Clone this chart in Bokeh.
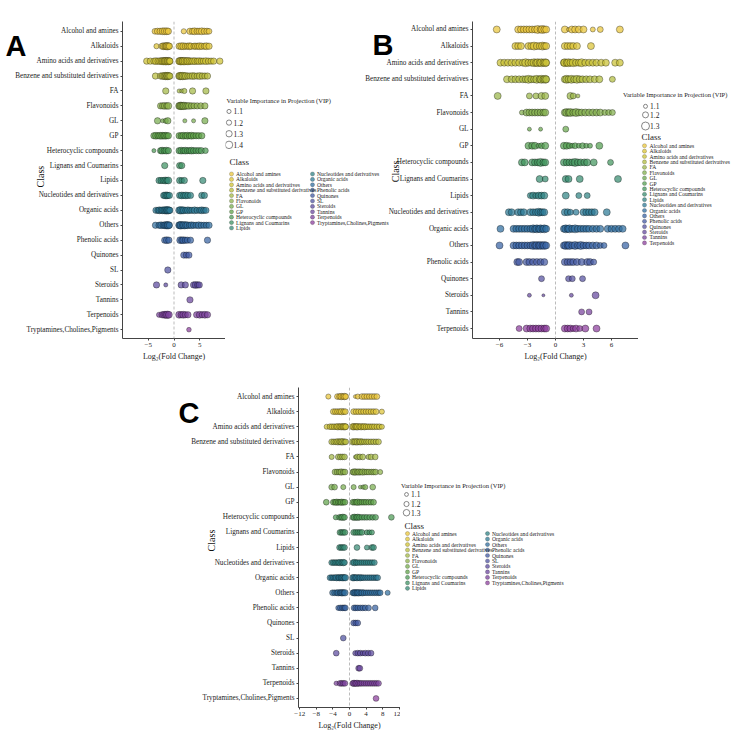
import math
from bokeh.plotting import figure
from bokeh.layouts import row, column
from bokeh.models import Range1d, FixedTicker, Span, Spacer, ColumnDataSource
from bokeh.core.properties import value
from bokeh.embed import file_html
from bokeh.resources import INLINE

SERIF = "Liberation Serif"
BOLD = "Liberation Sans"

# ---------------- data ----------------
CLASSES_AC = ["Alcohol and amines", "Alkaloids", "Amino acids and derivatives",
              "Benzene and substituted derivatives", "FA", "Flavonoids", "GL", "GP",
              "Heterocyclic compounds", "Lignans and Coumarins", "Lipids",
              "Nucleotides and derivatives", "Organic acids", "Others", "Phenolic acids",
              "Quinones", "SL", "Steroids", "Tannins", "Terpenoids",
              "Tryptamines,Cholines,Pigments"]
CLASSES_B = ["Alcohol and amines", "Alkaloids", "Amino acids and derivatives",
             "Benzene and substituted derivatives", "FA", "Flavonoids", "GL", "GP",
             "Heterocyclic compounds", "Lignans and Coumarins", "Lipids",
             "Nucleotides and derivatives", "Organic acids", "Others", "Phenolic acids",
             "Quinones", "Steroids", "Tannins", "Terpenoids"]

A_fc = [
    [-3.7, -3.2, -2.7, -2.2, -1.8, -1.4, -1.1, 1.9, 3.1, 3.6, 4.0, 4.5, 4.9, 5.4, 5.9, 6.4, 6.8],
    [-3.4, -2.3, -2.0, -1.7, -1.5, -1.3, -1.1, -0.9, 1.0, 1.4, 1.8, 2.2, 2.6, 3.0, 3.3, 3.9, 4.2, 4.6, 5.0, 5.4, 5.9, 6.3, 6.8],
    [-5.3, -4.6, -3.9, -3.5, -3.1, -2.7, -2.4, -2.1, -1.9, -1.7, -1.5, -1.3, -1.1, -0.9, -0.8,
     1.0, 1.2, 1.4, 1.6, 1.8, 2.1, 2.4, 2.7, 3.0, 3.3, 3.7, 4.1, 4.5, 4.9, 5.3, 5.7, 6.2, 6.7, 7.2, 7.7, 8.9],
    [-3.6, -2.6, -2.2, -1.9, -1.6, -1.4, -1.2, -1.0, -0.8,
     1.0, 1.2, 1.4, 1.7, 2.0, 2.3, 2.7, 3.1, 3.6, 4.0, 4.5, 5.0, 5.5, 6.0, 6.5],
    [-1.6, 1.0, 1.5, 2.0, 3.6, 6.2],
    [-2.6, -2.2, -1.8, -1.4, -1.1, 1.0, 1.2, 1.4, 1.6, 1.9, 2.2, 2.5, 2.9, 3.4, 3.9, 4.5, 5.2, 6.0],
    [-3.2, -2.2, -1.6, -1.2, 2.1, 3.8, 6.0],
    [-3.9, -3.5, -3.1, -2.7, -2.3, -2.0, -1.7, -1.4, -1.1, 1.0, 1.4, 1.8, 2.2, 2.6, 3.0, 3.4, 3.8, 4.3, 4.8, 5.4],
    [-3.9, -2.6, -2.3, -1.9, -1.5, -1.1, 1.0, 1.4, 1.8, 2.2, 2.6, 3.0, 3.4, 3.8, 4.3, 4.8, 5.3, 6.1],
    [-1.8, 1.1, 1.5],
    [-2.9, -2.5, -2.1, -1.7, -1.4, -1.1, 1.1, 1.5, 2.0, 5.6],
    [-2.0, -1.7, -1.4, -1.2, -0.9, 1.1, 1.5, 1.9, 2.3, 2.7, 3.2, 5.4, 5.9],
    [-3.5, -3.1, -2.8, -2.5, -2.2, -1.9, -1.6, -1.4, -1.2, -1.0, -0.8,
     1.0, 1.3, 1.6, 1.9, 2.3, 2.7, 3.1, 3.5, 4.0, 4.5, 5.0, 5.4, 5.8, 6.2],
    [-3.6, -2.9, -2.5, -2.1, -1.8, -1.5, -1.3, -1.1, -0.9,
     1.0, 1.2, 1.4, 1.7, 2.0, 2.3, 2.6, 3.0, 3.4, 3.8, 4.3, 4.8, 5.3, 5.8, 6.3, 6.8],
    [-1.8, -1.4, -1.0, 1.2, 1.5, 1.8, 2.2, 2.6, 3.2, 6.5],
    [1.9, 2.4, 2.9],
    [-1.2],
    [-3.4, -1.6, 1.4, 2.2, 3.8, 4.2, 4.6, 4.9],
    [3.1],
    [-2.9, -2.3, -1.9, -1.6, -1.3, -1.0, 1.0, 1.4, 1.8, 2.2, 2.7, 4.4, 5.0, 5.5, 6.0, 6.5],
    [2.9],
]
A_vip = [
    [1.25, 1.3, 1.3, 1.35, 1.35, 1.35, 1.3, 1.2, 1.3, 1.3, 1.35, 1.3, 1.3, 1.35, 1.3, 1.3, 1.25],
    [1.2, 1.3, 1.35, 1.35, 1.35, 1.4, 1.35, 1.3, 1.3, 1.35, 1.35, 1.3, 1.3, 1.35, 1.3, 1.3, 1.3, 1.3, 1.35, 1.3, 1.3, 1.35, 1.3],
    [1.3, 1.3, 1.3, 1.35, 1.3, 1.35, 1.35, 1.4, 1.35, 1.4, 1.4, 1.35, 1.4, 1.35, 1.3,
     1.35, 1.4, 1.4, 1.35, 1.4, 1.4, 1.35, 1.4, 1.35, 1.3, 1.35, 1.35, 1.3, 1.35, 1.3, 1.3, 1.35, 1.3, 1.3, 1.3, 1.3],
    [1.3, 1.3, 1.35, 1.35, 1.4, 1.35, 1.4, 1.35, 1.3,
     1.35, 1.4, 1.35, 1.4, 1.35, 1.35, 1.3, 1.3, 1.35, 1.3, 1.3, 1.35, 1.3, 1.3, 1.3],
    [1.3, 1.1, 1.1, 1.2, 1.3, 1.3],
    [1.3, 1.3, 1.35, 1.3, 1.35, 1.35, 1.4, 1.4, 1.35, 1.4, 1.35, 1.3, 1.35, 1.3, 1.3, 1.3, 1.3, 1.3],
    [1.3, 1.1, 1.2, 1.3, 1.1, 1.1, 1.3],
    [1.3, 1.35, 1.3, 1.35, 1.35, 1.3, 1.35, 1.3, 1.3, 1.3, 1.3, 1.35, 1.3, 1.35, 1.3, 1.35, 1.3, 1.3, 1.3, 1.3],
    [1.1, 1.3, 1.35, 1.3, 1.35, 1.3, 1.3, 1.35, 1.3, 1.35, 1.3, 1.3, 1.35, 1.3, 1.3, 1.3, 1.3, 1.25],
    [1.3, 1.3, 1.3],
    [1.3, 1.3, 1.3, 1.35, 1.3, 1.35, 1.3, 1.25, 1.3, 1.3],
    [1.3, 1.35, 1.35, 1.3, 1.3, 1.3, 1.35, 1.3, 1.35, 1.3, 1.3, 1.3, 1.3],
    [1.3, 1.3, 1.35, 1.3, 1.35, 1.35, 1.4, 1.35, 1.4, 1.35, 1.3,
     1.35, 1.4, 1.35, 1.35, 1.3, 1.35, 1.3, 1.3, 1.35, 1.3, 1.3, 1.35, 1.3, 1.3],
    [1.3, 1.3, 1.35, 1.3, 1.35, 1.4, 1.35, 1.4, 1.3,
     1.35, 1.4, 1.4, 1.35, 1.4, 1.35, 1.35, 1.3, 1.35, 1.3, 1.3, 1.35, 1.3, 1.3, 1.3, 1.3],
    [1.3, 1.35, 1.3, 1.35, 1.3, 1.35, 1.3, 1.3, 1.3, 1.3],
    [1.3, 1.3, 1.3],
    [1.3],
    [1.3, 1.1, 1.3, 1.3, 1.3, 1.35, 1.3, 1.3],
    [1.3],
    [1.2, 1.3, 1.35, 1.35, 1.4, 1.35, 1.35, 1.3, 1.35, 1.3, 1.3, 1.3, 1.35, 1.3, 1.35, 1.3],
    [1.15],
]

B_fc = [
    [-6.3, -4.0, -3.7, -3.4, -3.1, -2.8, -2.5, -2.2, -1.9, -1.6, -1.4, -1.2, -1.0, 1.0, 1.4, 1.75, 2.1, 2.5, 3.0, 4.0, 4.8, 6.9],
    [-4.3, -4.0, -3.7, -2.9, -2.6, -2.3, -2.0, -1.7, -1.4, -1.2, -1.0, 1.0, 1.3, 1.6, 1.9, 2.3, 3.8],
    [-5.9, -5.5, -5.1, -4.7, -4.3, -3.9, -3.5, -3.2, -2.9, -2.6, -2.3, -2.1, -1.9, -1.7, -1.5, -1.3, -1.1, -1.0,
     0.9, 1.0, 1.2, 1.4, 1.6, 1.9, 2.2, 2.5, 2.8, 3.2, 3.6, 4.0, 4.4, 4.9, 5.4, 6.4, 6.9],
    [-5.2, -4.7, -4.3, -3.9, -3.5, -3.2, -2.9, -2.6, -2.3, -2.0, -1.7, -1.5, -1.3, -1.1, -1.0,
     1.0, 1.2, 1.4, 1.7, 2.0, 2.3, 2.6, 2.9, 3.3, 3.7, 4.2, 4.7, 6.1],
    [-6.2, -2.8, -2.1, -1.5, -1.1, 1.6, 1.9, 2.4],
    [-3.6, -3.1, -2.8, -2.5, -2.2, -1.9, -1.6, -1.3, -1.1,
     1.0, 1.2, 1.4, 1.6, 1.9, 2.2, 2.5, 2.8, 3.2, 3.6, 4.0, 4.4, 4.8, 5.3, 5.7, 6.1],
    [-2.8, -1.6, 1.1],
    [-2.9, -2.5, -2.2, -1.8, -1.5, -1.1, 0.9, 1.2, 1.5, 1.8, 2.1, 2.5, 2.9, 3.3, 3.7, 4.7],
    [-3.6, -3.3, -2.5, -2.2, -1.9, -1.6, -1.3, -1.1, 0.9, 1.2, 1.5, 1.8, 2.1, 2.4, 2.7, 3.1, 3.4, 4.1, 5.9],
    [-1.7, -1.1, 1.1, 1.4, 2.6, 6.7],
    [-2.7, -2.4, -2.1, -1.8, -1.5, -1.2, 1.1, 2.5, 3.4],
    [-5.0, -4.7, -4.0, -3.7, -3.4, -2.7, -2.4, -2.1, -1.8, -1.6, -1.4, -1.2, 1.0, 1.3, 1.6, 2.2, 3.0, 3.3, 3.6, 3.9, 4.2, 5.5],
    [-5.9, -4.5, -4.2, -3.9, -3.6, -3.3, -3.0, -2.7, -2.4, -2.2, -2.0, -1.8, -1.6, -1.4, -1.2, -1.0,
     0.9, 1.1, 1.3, 1.5, 1.8, 2.1, 2.4, 2.7, 3.0, 3.3, 3.6, 4.0, 4.4, 4.8, 5.6, 6.0, 6.4, 6.8, 7.2],
    [-6.0, -4.5, -4.2, -3.9, -3.6, -3.3, -3.0, -2.7, -2.4, -2.2, -2.0, -1.8, -1.6, -1.4, -1.2, -1.0,
     0.9, 1.1, 1.3, 1.5, 1.8, 2.1, 2.4, 2.7, 3.0, 3.3, 3.6, 4.0, 4.4, 4.8, 5.2, 7.5],
    [-4.1, -3.9, -3.1, -2.8, -2.4, -2.0, -1.6, -1.2, 1.0, 1.3, 1.6, 1.9, 2.3, 2.8, 3.4, 3.7, 4.1],
    [-1.5, 1.4, 1.8, 2.9],
    [-2.8, -1.3, 1.7, 4.3],
    [2.8, 3.6],
    [-3.9, -3.1, -2.7, -2.4, -2.1, -1.8, -1.5, -1.2, -1.0, 1.0, 1.3, 1.6, 1.9, 2.2, 2.6, 3.2, 4.4],
]
B_vip = [
    [1.25, 1.25, 1.25, 1.25, 1.25, 1.25, 1.25, 1.25, 1.3, 1.25, 1.3, 1.25, 1.25, 1.25, 1.1, 1.25, 1.25, 1.25, 1.25, 1.15, 1.2, 1.25],
    [1.25, 1.25, 1.25, 1.25, 1.25, 1.3, 1.25, 1.25, 1.3, 1.25, 1.25, 1.25, 1.25, 1.25, 1.25, 1.25, 1.25],
    [1.25, 1.25, 1.25, 1.25, 1.25, 1.25, 1.25, 1.3, 1.25, 1.25, 1.3, 1.25, 1.3, 1.25, 1.3, 1.25, 1.3, 1.25,
     1.25, 1.3, 1.25, 1.3, 1.25, 1.3, 1.25, 1.25, 1.3, 1.25, 1.25, 1.25, 1.25, 1.25, 1.25, 1.25, 1.25],
    [1.25, 1.25, 1.25, 1.25, 1.25, 1.25, 1.3, 1.25, 1.25, 1.3, 1.25, 1.3, 1.25, 1.3, 1.25,
     1.25, 1.3, 1.25, 1.3, 1.25, 1.3, 1.25, 1.25, 1.25, 1.25, 1.25, 1.25, 1.2],
    [1.25, 1.2, 1.2, 1.25, 1.25, 1.25, 1.2, 1.1],
    [1.15, 1.25, 1.25, 1.25, 1.25, 1.25, 1.25, 1.25, 1.25,
     1.25, 1.3, 1.25, 1.3, 1.25, 1.3, 1.25, 1.25, 1.25, 1.25, 1.25, 1.25, 1.25, 1.2, 1.2, 1.2],
    [1.1, 1.1, 1.2],
    [1.25, 1.25, 1.25, 1.15, 1.2, 1.25, 1.25, 1.25, 1.2, 1.15, 1.2, 1.15, 1.2, 1.15, 1.15, 1.25],
    [1.25, 1.25, 1.25, 1.25, 1.25, 1.3, 1.25, 1.25, 1.25, 1.25, 1.25, 1.25, 1.3, 1.25, 1.25, 1.25, 1.25, 1.25, 1.2],
    [1.25, 1.2, 1.25, 1.25, 1.25, 1.25],
    [1.2, 1.25, 1.2, 1.25, 1.25, 1.25, 1.25, 1.2, 1.2],
    [1.25, 1.25, 1.25, 1.25, 1.25, 1.25, 1.25, 1.25, 1.3, 1.25, 1.25, 1.25, 1.25, 1.25, 1.2, 1.2, 1.25, 1.25, 1.25, 1.25, 1.25, 1.25],
    [1.25, 1.25, 1.25, 1.25, 1.25, 1.25, 1.25, 1.25, 1.3, 1.25, 1.3, 1.25, 1.3, 1.25, 1.3, 1.25,
     1.25, 1.3, 1.25, 1.3, 1.25, 1.3, 1.25, 1.25, 1.25, 1.25, 1.25, 1.25, 1.25, 1.25, 1.25, 1.25, 1.25, 1.25, 1.25],
    [1.25, 1.25, 1.25, 1.25, 1.25, 1.25, 1.25, 1.25, 1.3, 1.25, 1.3, 1.25, 1.3, 1.25, 1.3, 1.25,
     1.25, 1.3, 1.25, 1.3, 1.25, 1.3, 1.25, 1.3, 1.25, 1.25, 1.25, 1.25, 1.25, 1.2, 1.2, 1.25],
    [1.25, 1.25, 1.25, 1.25, 1.25, 1.25, 1.25, 1.25, 1.25, 1.25, 1.25, 1.25, 1.25, 1.25, 1.25, 1.25, 1.2],
    [1.2, 1.2, 1.2, 1.2],
    [1.1, 1.05, 1.1, 1.25],
    [1.2, 1.2],
    [1.2, 1.25, 1.25, 1.25, 1.25, 1.25, 1.25, 1.25, 1.25, 1.25, 1.25, 1.25, 1.2, 1.25, 1.2, 1.25, 1.25],
]

C_fc = [
    [-5.1, -2.9, -2.4, -2.0, -1.6, -1.2, -0.9, 1.4, 2.0, 3.0, 3.6, 4.2, 4.8, 5.4, 6.0, 6.6],
    [-3.9, -3.4, -2.9, -2.4, -1.9, -1.4, -1.0, 1.0, 1.6, 2.2, 2.8, 3.4, 4.0, 4.6, 5.2, 5.8, 6.4, 7.8],
    [-5.5, -4.7, -4.2, -3.7, -3.2, -2.8, -2.4, -2.0, -1.7, -1.4, -1.1, -0.9,
     0.8, 1.1, 1.4, 1.7, 2.0, 2.4, 2.8, 3.2, 3.6, 4.0, 4.5, 5.0, 5.5, 6.0, 6.6, 7.2, 7.8],
    [-4.3, -3.8, -3.3, -2.8, -2.4, -2.0, -1.6, -1.2, -0.9,
     0.8, 1.1, 1.5, 1.9, 2.3, 2.7, 3.1, 3.6, 4.1, 4.6, 5.2, 5.8, 6.4, 7.0],
    [-4.3, -2.7, -2.2, -1.7, -1.2, 1.4, 1.9, 2.5, 3.2, 4.6, 5.2, 6.2],
    [-3.5, -3.0, -2.5, -2.0, -1.5, -1.1, 0.8, 1.1, 1.5, 1.9, 2.3, 2.7, 3.2, 3.7, 4.2, 4.7, 5.3, 5.8, 6.3, 7.4],
    [-4.3, -3.6, -1.5, 1.0, 2.6, 3.3, 3.8, 5.6],
    [-5.6, -3.9, -3.5, -3.1, -2.7, -2.3, -1.9, -1.5, -1.1, 0.8, 1.2, 1.6, 2.0, 2.5, 3.0, 3.5, 4.0, 4.6, 5.2, 5.8],
    [-3.3, -2.4, -2.0, -1.6, -1.2, 0.8, 1.2, 1.6, 2.0, 2.4, 3.0, 3.6, 4.2, 4.9, 5.6, 6.3, 10.1],
    [-2.3, -1.9, -1.5, -1.1, 1.0, 1.5, 2.0, 2.5, 3.0, 4.2, 4.8, 5.4],
    [-2.4, -2.0, -1.6, -1.2, 1.8, 4.2, 5.4, 5.8],
    [-4.3, -3.9, -3.5, -3.1, -2.7, -2.3, -1.9, -1.5, -1.2, 0.8, 1.2, 1.6, 2.0, 2.5, 3.0, 3.5, 4.0, 4.5, 5.0, 5.5, 6.0],
    [-4.7, -4.3, -3.9, -3.5, -3.1, -2.7, -2.4, -2.1, -1.8, -1.5, -1.2, -1.0,
     0.8, 1.1, 1.4, 1.8, 2.2, 2.6, 3.0, 3.4, 3.9, 4.4, 4.9, 5.4, 5.9, 6.4, 6.8],
    [-4.1, -3.6, -3.1, -2.7, -2.3, -2.0, -1.7, -1.4, -1.1,
     0.8, 1.1, 1.4, 1.7, 2.0, 2.3, 2.7, 3.1, 3.5, 4.0, 4.5, 5.0, 5.5, 6.0, 6.5, 7.0, 7.4, 9.2],
    [-2.7, -2.2, -1.7, -1.3, -1.0, 1.1, 1.5, 2.0, 2.6, 3.2, 3.8, 4.6, 6.2],
    [1.0, 1.5, 2.0],
    [-1.5],
    [-3.2, 1.4, 2.0, 2.6, 3.2, 3.8, 4.5, 5.2],
    [2.2, 2.5],
    [-3.2, -2.3, -1.9, -1.5, -1.1, 0.8, 1.1, 1.4, 1.8, 2.2, 2.6, 3.0, 3.5, 4.0, 4.5, 5.0, 5.5, 6.0, 6.5, 7.0],
    [6.4],
]
C_vip = [
    [1.2, 1.25, 1.25, 1.3, 1.25, 1.3, 1.25, 1.1, 1.2, 1.25, 1.25, 1.25, 1.25, 1.25, 1.25, 1.25],
    [1.25, 1.25, 1.25, 1.25, 1.3, 1.25, 1.25, 1.25, 1.25, 1.25, 1.25, 1.25, 1.25, 1.25, 1.25, 1.25, 1.25, 1.2],
    [1.2, 1.25, 1.25, 1.25, 1.25, 1.3, 1.25, 1.3, 1.25, 1.3, 1.3, 1.25,
     1.3, 1.3, 1.25, 1.3, 1.3, 1.25, 1.3, 1.25, 1.3, 1.25, 1.25, 1.25, 1.25, 1.25, 1.25, 1.25, 1.2],
    [1.25, 1.25, 1.25, 1.3, 1.25, 1.3, 1.3, 1.25, 1.25,
     1.3, 1.25, 1.3, 1.3, 1.25, 1.3, 1.25, 1.25, 1.25, 1.25, 1.25, 1.25, 1.25, 1.25],
    [1.2, 1.25, 1.25, 1.25, 1.25, 1.1, 1.25, 1.25, 1.25, 1.2, 1.25, 1.25],
    [1.25, 1.25, 1.25, 1.3, 1.25, 1.25, 1.25, 1.3, 1.3, 1.25, 1.3, 1.25, 1.3, 1.25, 1.25, 1.25, 1.25, 1.25, 1.25, 1.2],
    [1.25, 1.25, 1.2, 1.2, 1.1, 1.15, 1.2, 1.25],
    [1.25, 1.25, 1.25, 1.3, 1.25, 1.25, 1.3, 1.25, 1.25, 1.25, 1.25, 1.25, 1.3, 1.25, 1.25, 1.25, 1.25, 1.25, 1.25, 1.25],
    [1.2, 1.25, 1.25, 1.3, 1.25, 1.25, 1.3, 1.25, 1.3, 1.25, 1.25, 1.25, 1.25, 1.25, 1.25, 1.25, 1.25],
    [1.25, 1.25, 1.25, 1.25, 1.25, 1.25, 1.25, 1.25, 1.25, 1.2, 1.2, 1.2],
    [1.25, 1.25, 1.25, 1.25, 1.25, 1.2, 1.25, 1.25],
    [1.25, 1.25, 1.25, 1.25, 1.25, 1.3, 1.25, 1.3, 1.25, 1.25, 1.3, 1.25, 1.25, 1.25, 1.25, 1.25, 1.25, 1.25, 1.25, 1.25, 1.25],
    [1.25, 1.25, 1.25, 1.25, 1.3, 1.25, 1.3, 1.25, 1.3, 1.3, 1.25, 1.3,
     1.3, 1.3, 1.25, 1.3, 1.25, 1.3, 1.25, 1.25, 1.25, 1.25, 1.25, 1.25, 1.25, 1.25, 1.25],
    [1.25, 1.25, 1.25, 1.3, 1.25, 1.3, 1.3, 1.25, 1.3,
     1.25, 1.3, 1.3, 1.25, 1.3, 1.3, 1.25, 1.3, 1.25, 1.25, 1.25, 1.25, 1.25, 1.25, 1.25, 1.25, 1.25, 1.2],
    [1.2, 1.25, 1.25, 1.25, 1.25, 1.25, 1.25, 1.25, 1.25, 1.25, 1.25, 1.25, 1.25],
    [1.25, 1.25, 1.25],
    [1.25],
    [1.25, 1.2, 1.25, 1.25, 1.2, 1.25, 1.25, 1.25],
    [1.25, 1.25],
    [1.15, 1.25, 1.25, 1.25, 1.25, 1.25, 1.3, 1.25, 1.3, 1.25, 1.25, 1.25, 1.25, 1.25, 1.25, 1.25, 1.25, 1.25, 1.25, 1.25],
    [1.25],
]

VIP_LEVELS_A = [1.1, 1.2, 1.3, 1.4]
VIP_LEVELS_B = [1.1, 1.2, 1.3]
VIP_LEVELS_C = [1.1, 1.2, 1.3]

X_TICKS_A = [-5, 0, 5]
X_TICKS_B = [-6, -3, 0, 3, 6]
X_TICKS_C = [-12, -8, -4, 0, 4, 8, 12]

# ---------------- styles ----------------
PAL_AC = ["#E9C53A", "#DEC436", "#CFC233", "#B9BD3C", "#A3B845", "#8DB24A", "#77AC4D",
          "#5FA24A", "#4C9A55", "#3E9163", "#368A74", "#2F8284", "#2D7994", "#306E9E",
          "#3763A2", "#4159A3", "#4D51A0", "#5B4A9E", "#6B469E", "#7B429C", "#8C3F9C"]
PAL_B = ["#E9C53A", "#DBC436", "#C9C134", "#B2BC3E", "#9AB648", "#82AF4C", "#6AA74D",
         "#539E50", "#42955E", "#378C70", "#318383", "#2D7A95", "#2F6EA0", "#3863A3",
         "#455AA3", "#5451A0", "#65489E", "#78439C", "#8C3F9C"]

SIZE_A = (1.0, 1.4, 3.0, 7.5)
SIZE_B = (1.0, 1.3, 2.0, 8.0)
SIZE_C = (1.0, 1.3, 2.5, 6.5)

TXT = "#222222"
AXC = "#444444"
YLAB_SIZE = "7.2px"


def vip_size(v, m):
    v0, v1, s0, s1 = m
    return s0 + (v - v0) * (s1 - s0) / (v1 - v0)


def blank_fig(W, H, margin=None):
    kw = {}
    if margin is not None:
        kw["margin"] = margin
    p = figure(width=W, height=H, x_range=Range1d(0, W), y_range=Range1d(H, 0),
               output_backend="svg", toolbar_location=None,
               x_axis_location=None, y_axis_location=None,
               min_border_left=0, min_border_right=0, min_border_top=0, min_border_bottom=0,
               background_fill_color=None, border_fill_color=None, outline_line_color=None, **kw)
    p.xgrid.visible = False
    p.ygrid.visible = False
    return p


def text_fig(W, H, letter, letter_xy, class_xy, margin=None):
    p = blank_fig(W, H, margin)
    p.text(x=[letter_xy[0]], y=[letter_xy[1]], text=[letter], text_font=value(BOLD),
           text_font_size=value("29px"), text_font_style="bold", text_color="black",
           text_align="left", text_baseline="alphabetic")
    p.text(x=[class_xy[0]], y=[class_xy[1]], text=["Class"], text_font=value(SERIF),
           text_font_size=value("10px"), text_color="#111111", angle=math.pi / 2,
           text_align="center", text_baseline="middle")
    return p


def panel(classes, pal, fc, vip, xr, yr, xticks, W, H, mb, smap, margin=None):
    L, R, T, B = mb
    kw = {}
    if margin is not None:
        kw["margin"] = margin
    p = figure(width=W, height=H, x_range=Range1d(xr[0], xr[1]), y_range=Range1d(yr[0], yr[1]),
               output_backend="svg", toolbar_location=None,
               min_border_left=L, min_border_right=R, min_border_top=T, min_border_bottom=B,
               background_fill_color="white", border_fill_color=None, outline_line_color=None, **kw)
    p.xgrid.visible = False
    p.ygrid.visible = False

    p.add_layout(Span(location=0, dimension="height", line_color="#aaaaaa",
                      line_dash="3 2", line_width=0.8))

    xs, ys, ss, cs = [], [], [], []
    for i, (vals, vv) in enumerate(zip(fc, vip)):
        for x, v in zip(vals, vv):
            xs.append(x)
            ys.append(i)
            ss.append(vip_size(v, smap))
            cs.append(pal[i])
    src = ColumnDataSource(dict(x=xs, y=ys, s=ss, c=cs))
    p.scatter(x="x", y="y", size="s", source=src, fill_color="c", fill_alpha=0.72,
              line_color="black", line_alpha=0.65, line_width=0.5)

    ya = p.yaxis[0]
    ya.ticker = FixedTicker(ticks=list(range(len(classes))))
    ya.major_label_overrides = {i: c for i, c in enumerate(classes)}
    ya.major_label_text_font = SERIF
    ya.major_label_text_font_size = YLAB_SIZE
    ya.major_label_text_color = TXT
    ya.major_tick_in = 0
    ya.major_tick_out = 2
    ya.major_label_standoff = 2
    ya.minor_tick_line_color = None
    ya.axis_line_color = AXC
    ya.major_tick_line_color = AXC

    xa = p.xaxis[0]
    xa.ticker = FixedTicker(ticks=xticks)
    xa.major_label_text_font = SERIF
    xa.major_label_text_font_size = "7px"
    xa.major_label_text_color = TXT
    xa.major_tick_in = 0
    xa.major_tick_out = 2
    xa.major_label_standoff = 2
    xa.minor_tick_line_color = None
    xa.axis_line_color = AXC
    xa.major_tick_line_color = AXC
    xa.axis_label = "Log\u2082(Fold Change)"
    xa.axis_label_text_font = SERIF
    xa.axis_label_text_font_size = "8px"
    xa.axis_label_text_font_style = "normal"
    xa.axis_label_text_color = TXT
    xa.axis_label_standoff = 2
    return p


def legend_fig(W, H, classes, pal, vip_levels, smap, pos, margin=None):
    p = blank_fig(W, H, margin)
    tx, ty = pos["vip_title"]
    p.text(x=[tx], y=[ty], text=["Variable Importance in Projection (VIP)"],
           text_font=value(SERIF), text_font_size=value("6.5px"), text_color=TXT,
           text_baseline="middle", text_align="left")
    vx = pos["vip_x"]
    vys = pos["vip_y"]
    p.scatter(x=[vx] * len(vip_levels), y=vys, size=[vip_size(v, smap) for v in vip_levels],
              fill_color=None, line_color="#555555", line_width=0.7)
    p.text(x=[vx + 4.5] * len(vip_levels), y=vys, text=["%.1f" % v for v in vip_levels],
           text_font=value(SERIF), text_font_size=value("7.5px"), text_color=TXT,
           text_baseline="middle", text_align="left")

    cx, cy = pos["class_title"]
    p.text(x=[cx], y=[cy], text=["Class"], text_font=value(SERIF),
           text_font_size=value("9px"), text_color=TXT,
           text_baseline="middle", text_align="left")

    gx, gy, tx2, lab, col = [], [], [], [], []
    nfirst = pos["n_first"]
    for i, c in enumerate(classes):
        ci = 0 if i < nfirst else 1
        ri = i if i < nfirst else i - nfirst
        g, t = pos["cols"][ci]
        gx.append(g)
        gy.append(pos["row0"] + pos["dy"] * ri)
        tx2.append(t)
        lab.append(c)
        col.append(pal[i])
    p.scatter(x=gx, y=gy, size=4.2, fill_color=col, fill_alpha=0.75,
              line_color="black", line_alpha=0.45, line_width=0.4)
    p.text(x=tx2, y=gy, text=lab, text_font=value(SERIF), text_font_size=value("5.6px"),
           text_color=TXT, text_baseline="middle", text_align="left")
    return p


# ---------------- row 1 : panels A and B ----------------
# horizontal extents: figA 0-225, legA 225-395, figB 352-638, txtB 367-427, legB 622-734
txtA = text_fig(60, 370, "A", (5, 29), (40, 181))
figA = panel(CLASSES_AC, PAL_AC, A_fc, A_vip, (-10.0, 10.0), (20.59, -0.656), X_TICKS_A,
             225, 370, (122, 0, 21, 25), SIZE_A, margin=(0, 0, 0, -60))
legA = legend_fig(170, 370, CLASSES_AC, PAL_AC, VIP_LEVELS_A, SIZE_A,
                  dict(vip_title=(1, 92), vip_x=3.5, vip_y=[105, 118, 131, 144],
                       class_title=(4, 164), cols=[(6, 10.5), (87, 91.5)], n_first=11,
                       row0=178, dy=6.3))
figB = panel(CLASSES_B, PAL_B, B_fc, B_vip, (-8.9, 8.9), (18.6, -0.48), X_TICKS_B,
             286, 370, (120, 0, 21, 32), SIZE_B, margin=(0, 0, 0, -43))
txtB = text_fig(60, 370, "B", (5, 28), (28, 175), margin=(0, 0, 0, -271))
legB = legend_fig(112, 370, CLASSES_B, PAL_B, VIP_LEVELS_B, SIZE_B,
                  dict(vip_title=(0.5, 85), vip_x=23, vip_y=[99, 109, 122],
                       class_title=(19, 135), cols=[(22, 27), (0, 0)], n_first=19,
                       row0=145, dy=6.3),
                  margin=(0, 0, 0, 195))

# ---------------- row 2 : panel C ----------------
txtC = text_fig(60, 368, "C", (8, 29), (41, 176))
figC = panel(CLASSES_AC, PAL_AC, C_fc, C_vip, (-12.3, 12.3), (20.6, -0.6), X_TICKS_C,
             230, 368, (128, 0, 17, 31), SIZE_C, margin=(0, 0, 0, -60))
legC = legend_fig(334, 368, CLASSES_AC, PAL_AC, VIP_LEVELS_C, SIZE_C,
                  dict(vip_title=(0.5, 113), vip_x=6, vip_y=[123, 134, 144],
                       class_title=(4, 159), cols=[(7, 11.5), (87, 91.5)], n_first=11,
                       row0=168, dy=6.3))

layout = column(row(txtA, figA, legA, figB, txtB, legB),
                row(Spacer(width=170, height=368), txtC, figC, legC))

open("out.html", "w").write(file_html(layout, INLINE))
